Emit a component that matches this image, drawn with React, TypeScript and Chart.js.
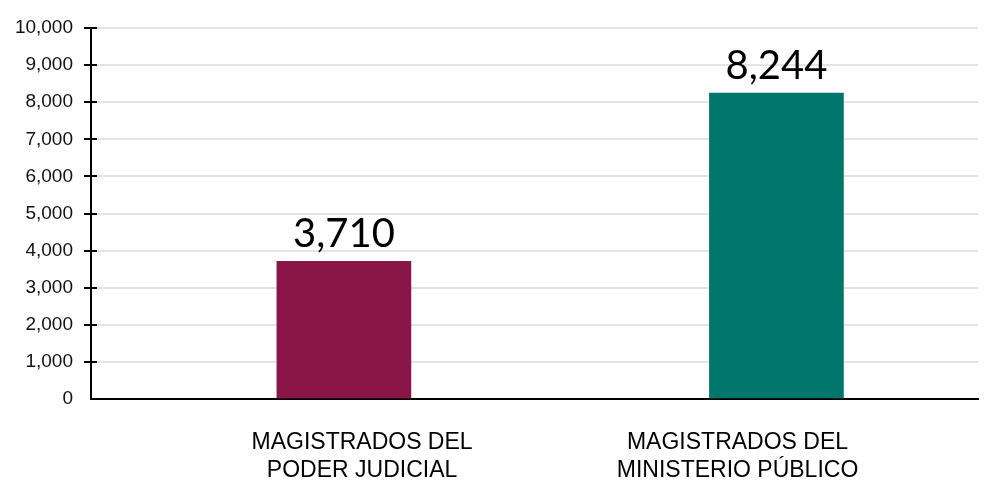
import React, { useEffect, useRef } from "react";
import { Chart, registerables } from "chart.js";

Chart.register(...registerables);

const categories: string[][] = [
  ["MAGISTRADOS DEL", "PODER JUDICIAL"],
  ["MAGISTRADOS DEL", "MINISTERIO PÚBLICO"],
];
const values: number[] = [3710, 8244];
const barColors: string[] = ["#8A1547", "#00756B"];
const yMin = 0;
const yMax = 10000;
const yStep = 1000;
// horizontal placement of the category labels (in x-axis units)
const labelOffsets: number[] = [0.042, -0.09];

const fmt = (v: number) => v.toLocaleString("en-US");

export default function App() {
  const ref = useRef<HTMLCanvasElement | null>(null);

  useEffect(() => {
    if (!ref.current) return;
    const dataLabels = {
      id: "dataLabels",
      afterDatasetsDraw(chart: any) {
        const ctx = chart.ctx;
        const meta = chart.getDatasetMeta(0);
        ctx.save();
        ctx.font = '400 40px "Lato", "DejaVu Sans", sans-serif';
        ctx.fillStyle = "#000";
        ctx.textAlign = "center";
        ctx.textBaseline = "alphabetic";
        meta.data.forEach((el: any, i: number) => {
          ctx.fillText(fmt(values[i]), el.x, el.y - 14);
        });
        ctx.restore();
      },
    };
    const innerTicks = {
      id: "innerTicks",
      afterDraw(chart: any) {
        const y = chart.scales.y;
        const ctx = chart.ctx;
        const x0 = chart.chartArea.left;
        ctx.save();
        ctx.strokeStyle = "#000";
        ctx.lineWidth = 2;
        y.ticks.forEach((t: any) => {
          if (t.value === 0) return;
          const py = Math.round(y.getPixelForValue(t.value));
          ctx.beginPath();
          ctx.moveTo(x0, py);
          ctx.lineTo(x0 + 6, py);
          ctx.stroke();
        });
        ctx.restore();
      },
    };

    const chart = new Chart(ref.current, {
      type: "bar",
      data: {
        datasets: [
          {
            data: values.map((v, i) => ({ x: i + 1, y: v })),
            backgroundColor: barColors,
            barThickness: 134,
          } as any,
        ],
      },
      options: {
        animation: false,
        responsive: false,
        maintainAspectRatio: false,
        layout: { padding: { top: 28, right: 10, left: 0, bottom: 0 } },
        plugins: { legend: { display: false }, tooltip: { enabled: false } },
        scales: {
          x: {
            type: "linear",
            offset: false,
            bounds: "data",
            min: 0.4153,
            max: 2.466,
            afterBuildTicks(scale: any) {
              scale.ticks = categories.map((_, i) => ({ value: i + 1 + labelOffsets[i] }));
            },
            afterFit(scale: any) {
              scale.height = 81;
            },
            ticks: {
              autoSkip: false,
              maxRotation: 0,
              padding: 30,
              color: "#000",
              font: { family: '"Liberation Sans", Arial, sans-serif', size: 23, lineHeight: 1.22 },
              callback: (_v: any, i: number) => categories[i],
            },
            grid: { display: false, drawTicks: false, offset: false },
            border: { display: true, color: "#000", width: 2 },
          },
          y: {
            min: yMin,
            max: yMax,
            afterFit(scale: any) {
              scale.width = 91;
            },
            ticks: {
              stepSize: yStep,
              padding: 11,
              color: "#111",
              font: { family: '"Liberation Sans", Arial, sans-serif', size: 19 },
              callback: (v: any) => fmt(Number(v)),
            },
            grid: {
              color: (c: any) => (c.tick && c.tick.value === 0 ? "rgba(0,0,0,0)" : "#e4e4e4"),
              lineWidth: 2,
              tickLength: 7,
              tickColor: (c: any) => (c.tick && c.tick.value === 0 ? "rgba(0,0,0,0)" : "#000"),
              tickWidth: 2,
            },
            border: { display: true, color: "#000", width: 2 },
          },
        },
      },
      plugins: [dataLabels, innerTicks],
    });
    return () => chart.destroy();
  }, []);

  return (
    <div style={{ position: "fixed", left: 0, top: 0, width: 988, height: 480, background: "#fff" }}>
      <canvas ref={ref} width={988} height={480} style={{ width: 988, height: 480 }} />
    </div>
  );
}
